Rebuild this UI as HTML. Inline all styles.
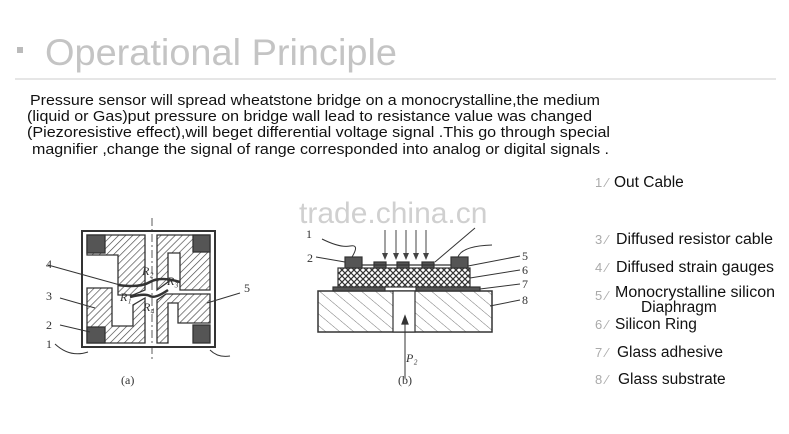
<!DOCTYPE html>
<html><head><meta charset="utf-8"><style>
html,body{margin:0;padding:0;background:#fff;}
svg{display:block;font-family:"Liberation Sans",sans-serif;}
</style></head><body>
<svg width="789" height="434" viewBox="0 0 789 434" xmlns="http://www.w3.org/2000/svg">
<defs>
<pattern id="h" width="5" height="5" patternUnits="userSpaceOnUse" patternTransform="rotate(45)">
<rect width="5" height="5" fill="#fff"/><line x1="0" y1="0" x2="0" y2="5" stroke="#444" stroke-width="1.3"/></pattern>
<pattern id="x" width="6" height="6" patternUnits="userSpaceOnUse">
<rect width="6" height="6" fill="#fff"/><path d="M0 0L6 6M6 0L0 6" stroke="#333" stroke-width="1.2"/></pattern>
<pattern id="g" width="9" height="9" patternUnits="userSpaceOnUse" patternTransform="rotate(-50)">
<rect width="9" height="9" fill="#fff"/><line x1="0" y1="0" x2="0" y2="9" stroke="#555" stroke-width="0.8"/></pattern>
</defs>
<rect x="17" y="47" width="6" height="6" fill="#bbb"/>
<text x="45" y="65" font-size="37" fill="#c4c4c4" textLength="352" lengthAdjust="spacingAndGlyphs">Operational Principle</text>
<line x1="15" y1="79" x2="776" y2="79" stroke="#ddd" stroke-width="1.5"/>
<g font-size="15" fill="#111">
<text x="30" y="105" textLength="570" lengthAdjust="spacingAndGlyphs">Pressure sensor will spread wheatstone bridge on a monocrystalline,the medium</text>
<text x="27" y="121" textLength="565" lengthAdjust="spacingAndGlyphs">(liquid or Gas)put pressure on bridge wall lead to resistance value was changed</text>
<text x="27" y="137" textLength="583" lengthAdjust="spacingAndGlyphs">(Piezoresistive effect),will beget differential voltage signal .This go through special</text>
<text x="32" y="154" textLength="577" lengthAdjust="spacingAndGlyphs">magnifier ,change the signal of range corresponded into analog or digital signals .</text>
</g>
<g font-size="13" fill="#aaa">
<text x="595" y="187">1 ∕</text><text x="595" y="244">3 ∕</text><text x="595" y="272">4 ∕</text>
<text x="595" y="300">5 ∕</text><text x="595" y="329">6 ∕</text><text x="595" y="357">7 ∕</text><text x="595" y="384">8 ∕</text>
</g>
<g font-size="15.5" fill="#111">
<text x="614" y="187">Out Cable</text>
<text x="616" y="244" textLength="157" lengthAdjust="spacingAndGlyphs">Diffused resistor cable</text>
<text x="616" y="272" textLength="158" lengthAdjust="spacingAndGlyphs">Diffused strain gauges</text>
<text x="615" y="297" textLength="160" lengthAdjust="spacingAndGlyphs">Monocrystalline silicon</text>
<text x="641" y="312">Diaphragm</text>
<text x="615" y="329">Silicon Ring</text>
<text x="617" y="357">Glass adhesive</text>
<text x="618" y="384">Glass substrate</text>
</g>
<!-- diagram a -->
<g stroke="#333" stroke-width="1.3">
<rect x="82" y="231" width="133" height="116" fill="#fff" stroke-width="2"/>
<path d="M87 235H145V290L133 295H118V255H87Z" fill="url(#h)"/>
<path d="M157 235H210V290H180V253H168V282L157 290Z" fill="url(#h)"/>
<path d="M87 288H112V326H133V305L145 298V343H87Z" fill="url(#h)"/>
<path d="M157 300L166 294H210V323H178V303H168V343H157Z" fill="url(#h)" />
<rect x="87" y="235" width="18" height="18" fill="#555"/>
<rect x="193" y="235" width="17" height="17" fill="#555"/>
<rect x="87" y="327" width="18" height="16" fill="#555"/>
<rect x="193" y="325" width="17" height="18" fill="#555"/>
<path d="M118 285Q140 288 150 282T180 282" fill="none" stroke-width="2.5"/>
<path d="M130 297Q145 293 150 296T168 290" fill="none" stroke-width="2.5"/>
<line x1="152" y1="218" x2="152" y2="360" stroke-dasharray="8 3 2 3" stroke-width="0.8"/>
<line x1="48" y1="265" x2="120" y2="285" stroke-width="1"/>
<line x1="60" y1="298" x2="95" y2="308" stroke-width="1"/>
<line x1="60" y1="325" x2="90" y2="332" stroke-width="1"/>
<path d="M55 344Q70 358 88 352" fill="none" stroke-width="1"/>
<path d="M210 350Q218 358 230 356" fill="none" stroke-width="1"/>
<line x1="240" y1="293" x2="207" y2="303" stroke-width="1"/>
</g>
<g font-family="Liberation Serif,serif" font-size="12" fill="#333">
<text x="46" y="268">4</text><text x="46" y="300">3</text><text x="46" y="329">2</text><text x="46" y="348">1</text>
<text x="244" y="292">5</text>
<text x="142" y="275" font-style="italic">R₂</text><text x="167" y="285" font-style="italic">R₃</text>
<text x="120" y="301" font-style="italic">R₁</text><text x="143" y="311" font-style="italic">R₄</text>
<text x="121" y="384">(a)</text><text x="398" y="384">(b)</text>
<text x="306" y="238">1</text><text x="307" y="262">2</text>
<text x="522" y="260">5</text><text x="522" y="274">6</text><text x="522" y="288">7</text><text x="522" y="304">8</text>
<text x="406" y="362" font-style="italic">P₂</text>
</g>
<!-- diagram b -->
<text x="299" y="223" font-size="30" fill="#d0d0d0">trade.china.cn</text>
<g stroke="#333" stroke-width="1.2">
<rect x="318" y="291" width="174" height="41" fill="url(#g)" stroke-width="1.5"/>
<rect x="393" y="291" width="22" height="41" fill="#fff"/>
<rect x="338" y="268" width="132" height="19" fill="url(#x)"/>
<rect x="333" y="287" width="52" height="4" fill="#555"/>
<rect x="416" y="287" width="64" height="4" fill="#555"/>
<rect x="345" y="257" width="17" height="11" fill="#555"/>
<rect x="374" y="262" width="12" height="6" fill="#555"/>
<rect x="397" y="262" width="12" height="6" fill="#555"/>
<rect x="422" y="262" width="12" height="6" fill="#555"/>
<rect x="451" y="257" width="17" height="11" fill="#555"/>
<line x1="362" y1="265" x2="451" y2="265"/>
<path d="M322 239Q340 248 350 246T352 257" fill="none" stroke-width="1"/>
<path d="M458 257Q462 246 492 245" fill="none" stroke-width="1"/>
<line x1="316" y1="257" x2="345" y2="262" stroke-width="1"/>
<line x1="520" y1="256" x2="468" y2="266" stroke-width="1"/>
<line x1="520" y1="270" x2="470" y2="278" stroke-width="1"/>
<line x1="520" y1="284" x2="480" y2="289" stroke-width="1"/>
<line x1="520" y1="300" x2="490" y2="306" stroke-width="1"/>
<line x1="475" y1="228" x2="435" y2="262" stroke-width="1"/>
<line x1="405" y1="378" x2="405" y2="322" stroke-width="1"/>
<path d="M402 324L405 316L408 324Z" fill="#333"/>
</g>
<g stroke="#444" stroke-width="1">
<line x1="385" y1="230" x2="385" y2="255"/><line x1="396" y1="230" x2="396" y2="255"/>
<line x1="406" y1="230" x2="406" y2="255"/><line x1="416" y1="230" x2="416" y2="255"/>
<line x1="426" y1="230" x2="426" y2="255"/>
</g>
<g fill="#444">
<path d="M382 253L385 260L388 253Z"/><path d="M393 253L396 260L399 253Z"/><path d="M403 253L406 260L409 253Z"/><path d="M413 253L416 260L419 253Z"/><path d="M423 253L426 260L429 253Z"/>
</g>
</svg>
</body></html>
